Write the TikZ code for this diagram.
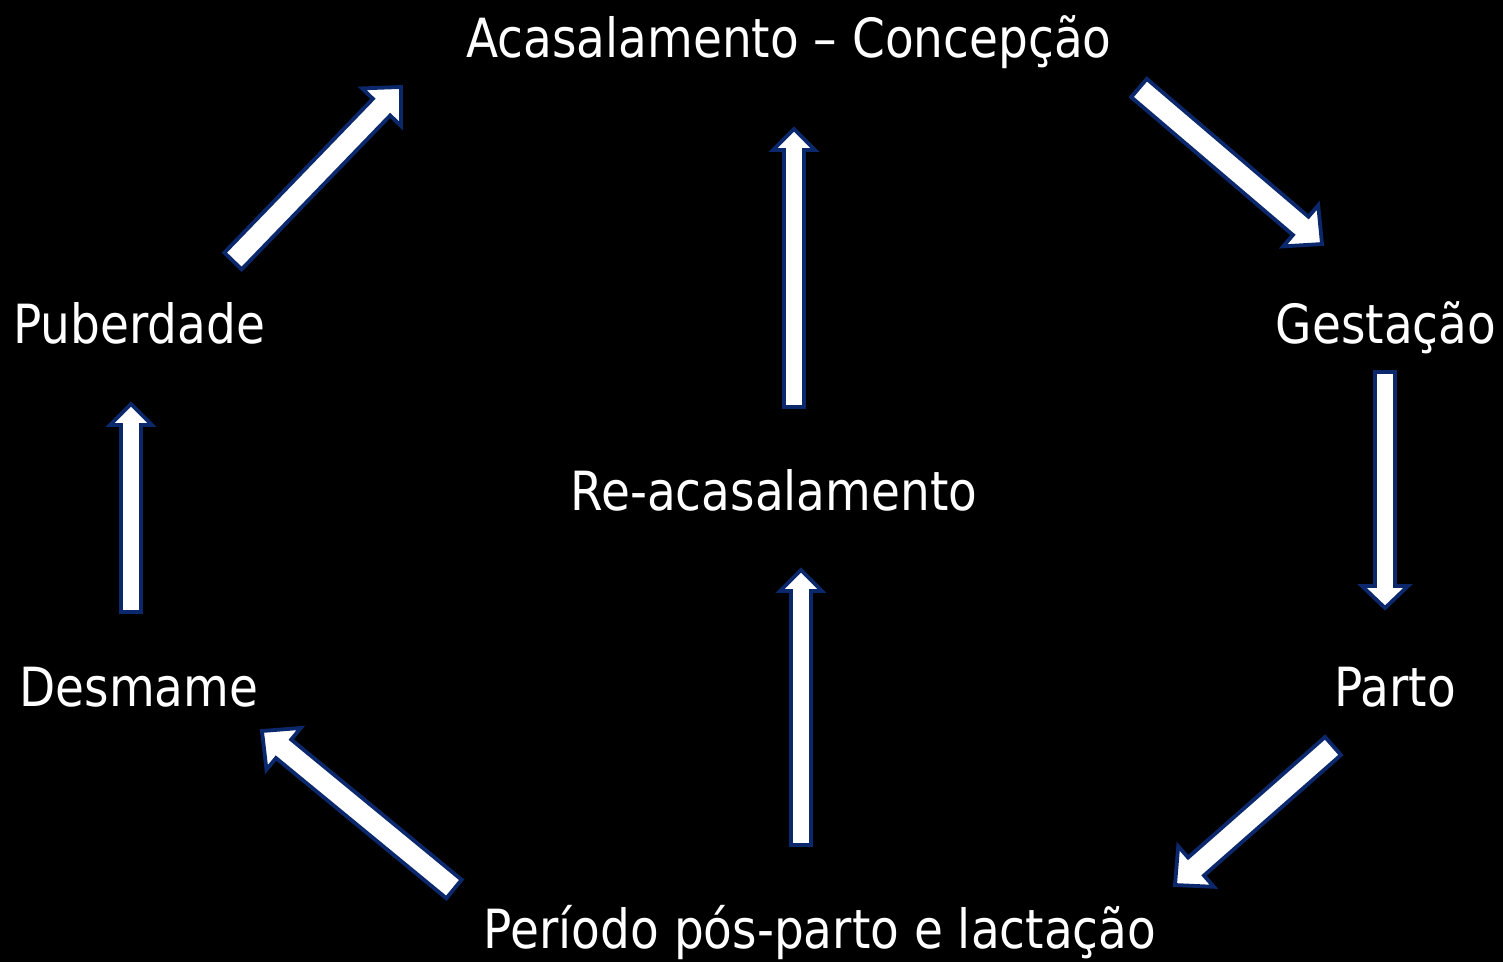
\documentclass[tikz,border=0pt]{standalone}
\usepackage{fontspec}
\setmainfont{DejaVu Sans}[FakeStretch=0.87]
\usetikzlibrary{calc}
\definecolor{arrowedge}{RGB}{12,40,108}
\tikzset{
  barrow/.style={draw=arrowedge,fill=white,line width=3.8pt,line join=miter},
  lbl/.style={text=white,font=\fontsize{54}{60}\selectfont,anchor=base,inner sep=0pt}
}
% #1 tail, #2 tip, #3 half shaft width, #4 half head width, #5 head length
\newcommand\blockarrow[5]{%
  \coordinate (ba-h) at ($(#2)!#5!(#1)$);
  \path[barrow] ($(#1)!#3!90:(#2)$) -- ($(ba-h)!#3!90:(#2)$) -- ($(ba-h)!#4!90:(#2)$)
    -- (#2) -- ($(ba-h)!#4!-90:(#2)$) -- ($(ba-h)!#3!-90:(#2)$) -- ($(#1)!#3!-90:(#2)$) -- cycle;
}
\begin{document}
\begin{tikzpicture}[x=1pt,y=-1pt]
\fill[black] (0,0) rectangle (1503,962);
\useasboundingbox (0,0) rectangle (1503,962);
\node[lbl] (acas) at (789,57) {Acasalamento – Concepção};
\node[lbl] (pub) at (139,343) {Puberdade};
\node[lbl] (gest) at (1386,343) {Gestação};
\node[lbl] (reac) at (774,510) {Re-acasalamento};
\node[lbl] (desm) at (139,706) {Desmame};
\node[lbl] (parto) at (1395,706) {Parto};
\node[lbl] (per) at (820,948) {Período pós-parto e lactação};
% arrow end points
\coordinate (a1t) at (233,261); \coordinate (a1h) at (401,87);
\coordinate (a2t) at (794,407); \coordinate (a2h) at (794,129);
\coordinate (a3t) at (1139,88); \coordinate (a3h) at (1322,244);
\coordinate (a4t) at (1385,372); \coordinate (a4h) at (1385,608);
\coordinate (a5t) at (1333,746); \coordinate (a5h) at (1175,885);
\coordinate (a6t) at (454,889); \coordinate (a6h) at (262,731);
\coordinate (a7t) at (801,845); \coordinate (a7h) at (801,570);
\coordinate (a8t) at (131,612); \coordinate (a8h) at (131,404);
\blockarrow{a1t}{a1h}{12pt}{27pt}{28pt}
\blockarrow{a2t}{a2h}{10pt}{21pt}{21pt}
\blockarrow{a3t}{a3h}{12pt}{27pt}{28pt}
\blockarrow{a4t}{a4h}{10pt}{23pt}{22pt}
\blockarrow{a5t}{a5h}{12pt}{27pt}{28pt}
\blockarrow{a6t}{a6h}{12pt}{27pt}{28pt}
\blockarrow{a7t}{a7h}{10pt}{21pt}{21pt}
\blockarrow{a8t}{a8h}{10pt}{21pt}{21pt}
\end{tikzpicture}
\end{document}
